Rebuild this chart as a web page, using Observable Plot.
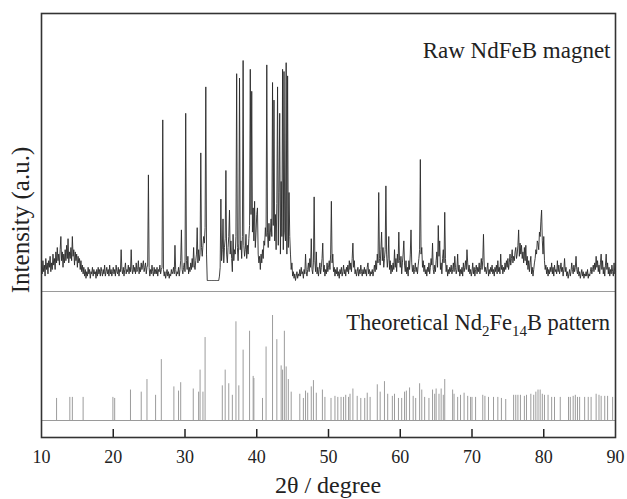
<!DOCTYPE html>
<html><head><meta charset="utf-8">
<script src="https://cdn.jsdelivr.net/npm/d3@7"></script>
<script src="https://cdn.jsdelivr.net/npm/@observablehq/plot@0.6"></script>
<style>body{margin:0;background:#fff} svg{display:block}</style>
</head><body><div id="chart"></div>
<script>
// ---- data ----
const rawStart = 10, rawStep = 0.1;           // 2θ grid of the measured pattern
const rawIntensity = [                         // raw NdFeB magnet, % of strongest peak
 6,3,9,4,7,2,10,5,8,3,
 9,6,11,4,8,5,12,7,10,5,
 13,8,15,9,12,7,14,20,9,13,
 6,12,8,14,9,16,10,19,8,13,
 10,15,9,20,11,14,7,13,9,12,
 6,11,8,10,5,9,4,7,3,6,
 2,5,1,4,2,6,3,5,1,4,
 3,6,2,5,3,4,1,5,2,6,
 3,5,2,6,4,2,5,3,7,2,
 4,6,3,5,2,7,3,5,2,4,
 6,3,5,2,7,4,3,6,2,5,
 4,14,5,3,6,2,5,8,3,5,
 4,7,3,6,4,14,5,3,7,4,
 6,3,8,4,5,9,3,6,4,8,
 5,7,9,4,6,8,3,6,7,48,
 6,2,5,3,7,4,2,6,3,5,
 3,6,2,5,4,7,3,5,6,73,
 5,2,4,1,3,5,2,4,1,3,
 2,5,3,4,6,3,16,5,2,4,
 3,6,2,5,9,23,5,3,6,8,
 4,76,9,5,11,3,6,4,8,5,
 10,6,15,7,5,9,12,24,8,14,
 9,12,58,15,11,16,20,17,24,88,
 12,0,0,0,0,0,0,0,0,0,
 0,0,0,0,0,0,0,0,2,6,
 37,9,14,28,8,15,19,50,12,8,
 15,20,32,12,18,10,4,21,9,14,
 12,20,94,15,9,17,92,14,18,10,
 20,100,16,11,14,21,10,16,12,19,
 25,96,30,86,22,33,18,36,15,22,
 30,33,12,8,11,5,12,8,14,10,
 18,16,24,20,98,22,15,26,18,22,
 28,20,90,25,82,18,30,14,35,88,
 16,40,76,12,45,20,96,14,95,22,
 18,99,12,93,15,40,20,12,5,8,
 2,4,1,3,0,2,4,1,3,2,
 5,2,6,3,4,1,5,3,12,4,
 2,5,8,4,10,6,19,5,3,8,
 38,9,4,13,3,6,2,5,8,3,
 6,10,17,4,7,2,5,3,8,4,
 6,9,5,12,36,8,12,4,6,2,
 5,3,6,2,4,1,5,3,6,2,
 4,7,3,5,2,6,4,7,3,9,
 5,8,4,10,17,6,9,3,5,2,
 4,6,2,5,3,7,4,2,5,3,
 6,3,5,2,6,8,3,5,2,4,
 3,5,2,4,7,4,9,5,12,8,
 40,10,7,14,22,9,15,6,10,14,
 43,12,6,10,20,5,9,3,7,4,
 8,5,14,6,10,4,12,8,22,9,
 6,11,3,8,12,18,7,4,9,3,
 6,2,9,5,12,23,8,4,7,3,
 5,8,4,6,3,7,10,14,55,12,
 15,6,9,4,7,3,5,2,6,4,
 8,3,6,10,7,17,5,3,7,4,
 9,13,6,25,11,18,5,8,3,10,
 14,8,31,10,4,7,2,5,3,6,
 4,7,3,5,8,4,11,6,3,5,
 12,4,7,2,5,3,6,2,8,4,
 6,9,5,14,8,4,7,3,5,2,
 4,8,3,6,2,5,7,3,6,4,
 8,3,6,10,5,9,21,7,4,6,
 3,5,8,2,5,3,6,4,7,3,
 5,2,6,4,7,3,9,4,6,3,
 12,5,7,3,6,4,8,5,9,6,
 10,5,8,12,7,10,14,8,11,9,
 13,15,10,12,16,23,11,17,12,16,
 10,13,8,15,9,16,7,11,5,9,
 4,8,11,3,6,2,5,8,10,14,
 12,18,17,14,22,20,27,32,18,12,
 20,9,5,7,3,6,2,5,3,6,
 4,8,3,6,2,7,4,5,3,9,
 4,7,3,5,8,4,6,2,5,10,
 4,6,2,4,1,3,5,2,4,8,
 5,3,7,4,6,11,5,3,6,2,
 4,1,3,5,2,4,1,3,2,4,
 2,5,1,3,2,4,6,3,5,7,
 4,8,5,11,6,9,4,7,3,8,
 12,5,9,3,6,2,7,12,5,8,
 3,6,2,5,3,7,4,2,8,3,
 4
];
const stickAngle = [12.1,13.95,14.3,15.8,19.95,20.2,22.4,23.9,24.7,25.9,26.7,28.45,29.1,29.4,31.15,31.9,32.1,32.5,32.8,
 35.2,35.6,36.1,36.6,37.1,37.5,38.1,39.0,39.5,39.6,40.8,41.3,42.2,42.8,43.4,43.6,43.85,44.1,44.4,44.8,
 46.0,46.5,46.8,47.1,47.6,47.9,48.3,49.15,49.5,50.35,50.9,51.3,51.75,52.1,52.4,52.8,53.0,53.4,54.0,54.5,55.05,55.4,55.8,
 56.8,57.2,57.8,58.25,58.9,59.2,59.75,60.2,60.6,60.85,61.3,61.8,62.15,62.7,63.0,63.4,64.0,64.5,64.8,65.0,65.4,65.7,66.0,66.2,
 67.3,67.5,68.0,68.4,68.9,69.4,69.8,70.0,70.5,71.5,71.8,72.3,73.0,73.6,74.1,74.7,75.8,76.1,76.4,76.75,77.3,77.6,78.2,78.6,
 78.9,79.2,79.5,79.8,80.1,80.6,81.1,81.5,82.3,83.45,83.7,84.1,84.4,84.7,85.0,85.7,86.2,86.6,87.3,87.7,88.0,88.5,88.9,89.6];
const stickIntensity = [21,22,22,22,22,21,29,27,39,24,58,32,28,36,30,27,48,27,79,
 33,48,35,24,94,33,67,85,42,40,21,70,100,77,52,48,85,51,39,27,
 25,21,28,26,32,38,26,29,22,21,23,22,22,22,24,22,25,30,23,21,21,26,22,
 34,27,37,25,23,25,21,21,27,28,31,23,21,35,29,22,21,29,25,30,25,30,24,39,
 29,25,22,24,26,23,22,22,22,24,23,22,22,22,21,20,24,24,24,24,23,24,25,24,
 27,29,29,25,24,24,22,22,22,22,22,23,24,22,22,22,22,22,25,24,23,23,23,22];
const xTicks = [10,20,30,40,50,60,70,80,90];
const rawLabel = "Raw NdFeB magnet";
const xLabel = "2θ / degree";
const yLabel = "Intensity (a.u.)";

// ---- layout constants (stacking of the two patterns) ----
const rawOffset = 157, rawScale = 2.2;
const stickOffset = 17, stickScale = 1.05;
const separatorLevel = 146;
const serif = "Liberation Serif, Times New Roman, DejaVu Serif, serif";

const rawData = rawIntensity.map((v, i) => ({theta: +(rawStart + i * rawStep).toFixed(1), y: rawOffset + rawScale * v}));
const sticks = stickAngle.map((t, i) => ({theta: t, top: stickOffset + stickScale * stickIntensity[i]}));

const plot = Plot.plot({
  width: 627, height: 499,
  marginLeft: 41, marginRight: 12, marginTop: 13, marginBottom: 62,
  style: {fontFamily: serif, fontSize: "18px", color: "#222", background: "#fff"},
  x: {domain: [10, 90]},
  y: {domain: [0, 424], axis: null},
  marks: [
    Plot.ruleY([separatorLevel, stickOffset], {stroke: "#9a9a9a", strokeWidth: 1}),
    Plot.ruleX(sticks, {x: "theta", y1: stickOffset, y2: "top", stroke: "#9c9c9c", strokeWidth: 1}),
    Plot.line(rawData, {x: "theta", y: "y", stroke: "#2a2a2a", strokeWidth: 0.9}),
    Plot.ruleX(xTicks.slice(1, -1), {y1: 0, y2: 8, stroke: "#222", strokeWidth: 1.5}),
    Plot.frame({stroke: "#333", strokeWidth: 1.6}),
    Plot.axisX({ticks: xTicks, tickSize: 0, tickPadding: 13, fontSize: 18, label: null, tickFormat: d => String(d)}),
    Plot.text([rawLabel], {frameAnchor: "top-right", textAnchor: "end", dx: -5, dy: 28, fontSize: 23, fill: "#222"})
  ]
});
document.getElementById("chart").appendChild(plot);

const sx = plot.scale("x"), sy = plot.scale("y");
const svg = d3.select(plot);
// label with subscripts for the theoretical pattern
const t = svg.append("text")
  .attr("x", sx.apply(90) - 5).attr("y", sy.apply(107))
  .attr("text-anchor", "end").attr("fill", "#222")
  .style("font-family", serif).style("font-size", "22.5px");
t.append("tspan").text("Theoretical Nd");
t.append("tspan").text("2").attr("font-size", "15px").attr("dy", 6);
t.append("tspan").text("Fe").attr("dy", -6);
t.append("tspan").text("14").attr("font-size", "15px").attr("dy", 6);
t.append("tspan").text("B pattern").attr("dy", -6);
// axis titles
svg.append("text").text(xLabel)
  .attr("x", (sx.apply(10) + sx.apply(90)) / 2).attr("y", 493)
  .attr("text-anchor", "middle").attr("fill", "#222")
  .style("font-family", serif).style("font-size", "24px");
svg.append("text").text(yLabel)
  .attr("transform", `translate(29,${sy.apply(217)}) rotate(-90)`)
  .attr("text-anchor", "middle").attr("fill", "#222")
  .style("font-family", serif).style("font-size", "25px");
</script></body></html>
